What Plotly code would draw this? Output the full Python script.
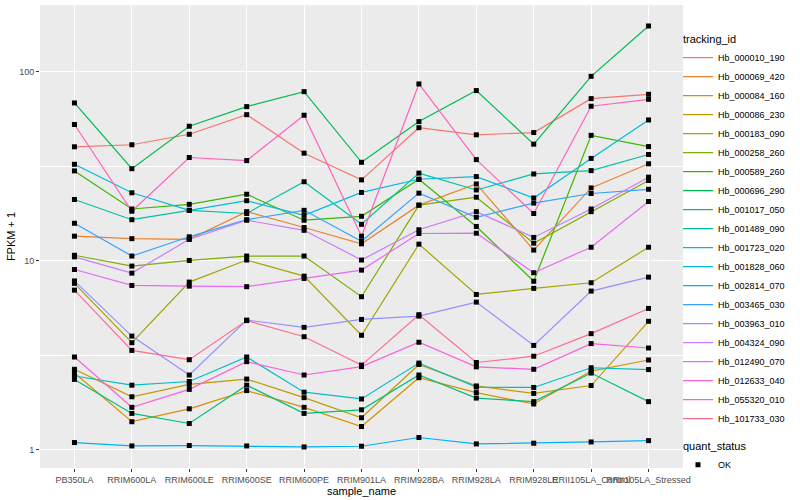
import plotly.graph_objects as go

samples = ["PB350LA", "RRIM600LA", "RRIM600LE", "RRIM600SE", "RRIM600PE", "RRIM901LA",
           "RRIM928BA", "RRIM928LA", "RRIM928LE", "RRII105LA_Control", "RRII105LA_Stressed"]

tracking_ids = ["Hb_000010_190", "Hb_000069_420", "Hb_000084_160", "Hb_000086_230",
                "Hb_000183_090", "Hb_000258_260", "Hb_000589_260", "Hb_000696_290",
                "Hb_001017_050", "Hb_001489_090", "Hb_001723_020", "Hb_001828_060",
                "Hb_002814_070", "Hb_003465_030", "Hb_003963_010", "Hb_004324_090",
                "Hb_012490_070", "Hb_012633_040", "Hb_055320_010", "Hb_101733_030"]

# FPKM + 1 per sample
hb_000010_190 = [40.1, 41.1, 46.7, 59.3, 37.1, 26.8, 50.6, 46.4, 47.7, 72.1, 76.0]
hb_000069_420 = [13.5, 13.1, 13.0, 18.2, 15.0, 12.3, 19.7, 25.5, 11.4, 24.3, 32.6]
hb_000084_160 = [2.55, 1.41, 1.65, 2.06, 1.68, 1.33, 2.41, 2.01, 1.75, 2.61, 2.99]
hb_000086_230 = [2.67, 1.91, 2.22, 2.37, 1.89, 1.48, 2.83, 2.18, 1.99, 2.19, 4.79]
hb_000183_090 = [7.6, 3.69, 7.72, 10.1, 8.3, 4.04, 12.25, 6.64, 7.15, 7.66, 11.8]
hb_000258_260 = [10.7, 9.38, 10.05, 10.6, 10.6, 6.46, 19.7, 21.7, 12.4, 18.2, 26.6]
hb_000589_260 = [29.9, 18.8, 19.9, 22.5, 16.4, 17.2, 27.0, 15.2, 7.8, 46.1, 40.2]
hb_000696_290 = [68.4, 30.7, 51.5, 65.4, 78.5, 33.2, 54.5, 79.5, 41.4, 94.6, 174.6]
hb_001017_050 = [2.36, 1.56, 1.38, 2.20, 1.56, 1.63, 2.49, 1.88, 1.80, 2.55, 1.80]
hb_001489_090 = [21.1, 16.5, 18.5, 17.8, 26.2, 15.6, 29.1, 23.7, 28.8, 30.0, 36.5]
hb_001723_020 = [2.46, 2.20, 2.30, 3.10, 2.02, 1.86, 2.88, 2.15, 2.14, 2.72, 2.66]
hb_001828_060 = [32.4, 22.9, 18.5, 20.8, 17.4, 23.0, 27.0, 27.9, 21.5, 34.8, 55.6]
hb_002814_070 = [1.094, 1.05, 1.055, 1.05, 1.037, 1.046, 1.163, 1.076, 1.085, 1.102, 1.12]
hb_003465_030 = [15.8, 10.6, 13.4, 16.5, 18.5, 12.7, 22.8, 17.0, 20.2, 22.7, 23.9]
hb_003963_010 = [7.83, 4.0, 2.49, 4.86, 4.45, 4.90, 5.10, 6.05, 3.57, 6.92, 8.2]
hb_004324_090 = [10.5, 8.61, 13.0, 16.4, 14.5, 10.1, 14.6, 18.2, 13.3, 18.8, 27.7]
hb_012490_070 = [9.0, 7.41, 7.35, 7.3, 8.07, 8.93, 13.95, 14.0, 8.65, 11.8, 20.6]
hb_012633_040 = [3.10, 1.68, 2.09, 2.93, 2.49, 2.76, 3.71, 2.75, 2.67, 3.65, 3.46]
hb_055320_010 = [52.6, 18.3, 35.2, 33.9, 58.9, 13.5, 86.2, 34.3, 17.8, 65.7, 71.5]
hb_101733_030 = [7.0, 3.36, 3.0, 4.83, 3.97, 2.81, 5.19, 2.90, 3.13, 4.12, 5.6]

series_values = [hb_000010_190, hb_000069_420, hb_000084_160, hb_000086_230, hb_000183_090,
                 hb_000258_260, hb_000589_260, hb_000696_290, hb_001017_050, hb_001489_090,
                 hb_001723_020, hb_001828_060, hb_002814_070, hb_003465_030, hb_003963_010,
                 hb_004324_090, hb_012490_070, hb_012633_040, hb_055320_010, hb_101733_030]

quant_status = ["OK"]

colors = ["#F8766D", "#EA8331", "#D89000", "#C09B00", "#A3A500", "#7CAE00", "#39B600",
          "#00BB4E", "#00BF7D", "#00C1A3", "#00BFC4", "#00BAE0", "#00B0F6", "#35A2FF",
          "#9590FF", "#C77CFF", "#E76BF3", "#FA62DB", "#FF62BC", "#FF6C91"]

FONT = "Liberation Sans, Arial, sans-serif"

fig = go.Figure()
for i, (tid, vals) in enumerate(zip(tracking_ids, series_values)):
    fig.add_trace(go.Scatter(
        x=samples, y=vals, mode="lines", name=tid,
        line=dict(color=colors[i], width=1.2),
        legendgroup="tracking_id",
        legendgrouptitle=dict(text="tracking_id", font=dict(size=11, color="black", family=FONT)) if i == 0 else None,
        hoverinfo="x+y+name",
    ))

all_x = [s for vals in series_values for s in samples]
all_y = [v for vals in series_values for v in vals]
fig.add_trace(go.Scatter(
    x=all_x, y=all_y, mode="markers", name=quant_status[0],
    marker=dict(symbol="square", size=5, color="black"),
    legendgroup="quant_status",
    legendgrouptitle=dict(text="quant_status", font=dict(size=11, color="black", family=FONT)),
))

fig.update_layout(
    width=800, height=500,
    margin=dict(l=40, r=117, t=5, b=32, autoexpand=False),
    paper_bgcolor="white",
    plot_bgcolor="#EBEBEB",
    font=dict(family=FONT, size=9, color="#4D4D4D"),
    showlegend=True,
    legend=dict(
        x=0.9922, xanchor="left", y=0.9585, yanchor="top",
        font=dict(size=9, color="black", family=FONT),
        tracegroupgap=8, itemwidth=30,
        bgcolor="rgba(0,0,0,0)",
    ),
)

fig.update_xaxes(
    type="category", range=[-0.6, 10.6], tickangle=0,
    showgrid=True, gridcolor="white", gridwidth=1.2,
    ticks="outside", ticklen=3, tickcolor="#333333", tickwidth=1,
    tickfont=dict(size=9, color="#4D4D4D", family=FONT),
    title=dict(text="sample_name", font=dict(size=11, color="black", family=FONT), standoff=2),
    zeroline=False, showline=False,
)

fig.update_yaxes(
    type="log", range=[-0.0956, 2.353],
    tickmode="array", tickvals=[1, 10, 100], ticktext=["1", "10", "100"],
    showgrid=True, gridcolor="white", gridwidth=1.2,
    minor=dict(tickmode="array", tickvals=[10 ** 0.5, 10 ** 1.5], showgrid=True,
               gridcolor="white", gridwidth=0.5, ticks=""),
    ticks="outside", ticklen=3, tickcolor="#333333", tickwidth=1,
    tickfont=dict(size=9, color="#4D4D4D", family=FONT),
    title=dict(text="FPKM + 1", font=dict(size=11, color="black", family=FONT), standoff=1),
    zeroline=False, showline=False,
)

fig.write_html("out.html", config={"displayModeBar": False},
               post_script="document.body.style.margin='0';")
